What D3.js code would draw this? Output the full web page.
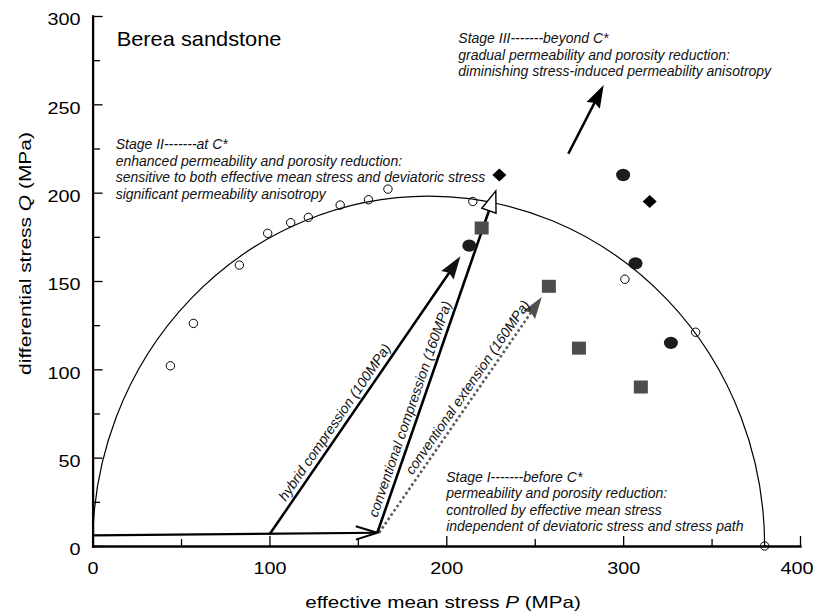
<!DOCTYPE html>
<html>
<head>
<meta charset="utf-8">
<script src="https://cdn.jsdelivr.net/npm/d3@7"></script>
<style>
  body { margin: 0; background: #fff; }
  svg { display: block; font-family: "Liberation Sans", Arial, sans-serif; }
</style>
</head>
<body>
<svg id="chart" width="815" height="614"></svg>
<script>
// ---- data -------------------------------------------------------------
// axis ticks
const xTickValues = [0, 50, 100, 150, 200, 250, 300, 350, 400];
const xTickLabels = [0, 100, 200, 300, 400];
const yTickValues = [0, 25, 50, 75, 100, 125, 150, 175, 200, 225, 250, 275, 300];
const yTickLabels = [0, 50, 100, 150, 200, 250, 300];

// C* envelope (elliptical cap): centre on the P axis, half-width, height
const capCenter = 190;
const capHalfWidth = 190;
const capHeight = 198;

// open circles: onset of shear-enhanced compaction (C*)
const openP = [44, 57, 83, 99, 112, 122, 140, 156, 167, 215, 301, 341, 380];
const openQ = [102, 126, 159, 177, 183, 186, 193, 196, 202, 195, 151, 121, 0];

// filled circles, diamonds and squares
const dotP = [213, 300, 307, 327];
const dotQ = [170, 210, 160, 115];
const diamondP = [230, 315];
const diamondQ = [210, 195];
const squareP = [220, 258, 275, 310];
const squareQ = [180, 147, 112, 90];

// stress paths [P, Q] start -> end
const loadingPath = [[0, 6], [161, 7.5]];
const hybridPath = [[100, 6.5], [208, 164]];
const compressionPath = [[161, 7.5], [228, 201]];
const extensionPath = [[162, 7.5], [254, 141]];
const stage3Path = [[269, 222], [289, 261]];

// annotation text
const stage2Text = [
  "Stage II-------at C*",
  "enhanced permeability and porosity reduction:",
  "sensitive to both effective mean stress and deviatoric stress",
  "significant permeability anisotropy"
];
const stage3Text = [
  "Stage III-------beyond C*",
  "gradual permeability and porosity reduction:",
  "diminishing stress-induced permeability anisotropy"
];
const stage1Text = [
  "Stage I-------before C*",
  "permeability and porosity reduction:",
  "controlled by effective mean stress",
  "independent of deviatoric stress and stress path"
];

// ---- chart ------------------------------------------------------------
const svg = d3.select("#chart");
const FONT = "'Liberation Sans', Arial, sans-serif";

const x = d3.scaleLinear().domain([0, 400]).range([92.6, 800]);
const y = d3.scaleLinear().domain([0, 300]).range([546, 16]);

const tickFont = 16.5;
const tickStretch = 1.2;

// x axis: ticks point inward (up), long at 100s, short at 50s
const xAxis = d3.axisBottom(x)
  .tickValues(xTickValues)
  .tickFormat(d => xTickLabels.includes(d) ? d : "")
  .tickSizeInner(-10)
  .tickSizeOuter(0)
  .tickPadding(15.8);
const gx = svg.append("g").attr("transform", `translate(0,${y(0)})`).call(xAxis);
gx.selectAll(".tick line")
  .attr("y2", d => d % 100 === 0 ? -10 : -7)
  .attr("stroke", "#000").attr("stroke-width", 1.3);
gx.selectAll(".tick text")
  .attr("font-family", FONT).attr("font-size", tickFont).attr("fill", "#000")
  .attr("x", d => d === 400 ? -3.5 / tickStretch : 0)
  .attr("transform", `scale(${tickStretch},1)`);

// y axis: ticks point inward (right), long at 50s, short at 25s
const yPad = 12;
const yAxis = d3.axisLeft(y)
  .tickValues(yTickValues)
  .tickFormat(d => yTickLabels.includes(d) ? d : "")
  .tickSizeInner(-10)
  .tickSizeOuter(0)
  .tickPadding(yPad);
const gy = svg.append("g").attr("transform", `translate(${x(0)},0)`).call(yAxis);
gy.selectAll(".tick line")
  .attr("x2", d => d % 50 === 0 ? 10 : 7.5)
  .attr("stroke", "#000").attr("stroke-width", 1.3);
gy.selectAll(".tick text")
  .attr("font-family", FONT).attr("font-size", tickFont).attr("fill", "#000")
  .attr("x", -yPad / tickStretch)
  .attr("dy", "0.54em")
  .attr("transform", `scale(${tickStretch},1)`);

[gx, gy].forEach(g => g.select(".domain")
  .attr("stroke", "#000").attr("stroke-width", 2.3).attr("stroke-linecap", "square"));

// axis titles
const xTitle = svg.append("g")
  .attr("transform", `translate(443,608) scale(1.25,1)`)
  .append("text").attr("text-anchor", "middle")
  .attr("font-family", FONT).attr("font-size", 16.5).attr("fill", "#000");
xTitle.append("tspan").text("effective mean stress ");
xTitle.append("tspan").attr("font-style", "italic").text("P");
xTitle.append("tspan").text(" (MPa)");

const yTitle = svg.append("g")
  .attr("transform", `translate(31,253.5) rotate(-90) scale(1.27,1)`)
  .append("text").attr("text-anchor", "middle")
  .attr("font-family", FONT).attr("font-size", 16.5).attr("fill", "#000");
yTitle.append("tspan").text("differential stress ");
yTitle.append("tspan").attr("font-style", "italic").text("Q");
yTitle.append("tspan").text(" (MPa)");

// sample name
svg.append("g").attr("transform", "translate(116.7,46) scale(1.09,1)")
  .append("text")
  .attr("font-family", FONT).attr("font-size", 20).attr("fill", "#000")
  .text("Berea sandstone");

// C* envelope
const rx = x(capCenter + capHalfWidth) - x(capCenter);
const ry = y(0) - y(capHeight);
svg.append("path")
  .attr("d", `M${x(capCenter - capHalfWidth)},${y(0)} A${rx},${ry} 0 0 1 ${x(capCenter + capHalfWidth)},${y(0)}`)
  .attr("fill", "none").attr("stroke", "#000").attr("stroke-width", 1.2);

// ---- arrows -----------------------------------------------------------
function px(p) { return [x(p[0]), y(p[1])]; }
function geom(path) {
  const [x1, y1] = px(path[0]), [x2, y2] = px(path[1]);
  const len = Math.hypot(x2 - x1, y2 - y1);
  const ux = (x2 - x1) / len, uy = (y2 - y1) / len;
  return { x1, y1, x2, y2, ux, uy, len, nx: uy, ny: -ux };
}
// arrow head polygon: tip, wing, notch, wing
function headPoints(g, L, W, notch) {
  const bx = g.x2 - g.ux * L, by = g.y2 - g.uy * L;
  return [
    [g.x2, g.y2],
    [bx + g.nx * W, by + g.ny * W],
    [g.x2 - g.ux * (L - notch), g.y2 - g.uy * (L - notch)],
    [bx - g.nx * W, by - g.ny * W]
  ];
}
function shaft(g, back, color, width, dash) {
  const l = svg.append("line")
    .attr("x1", g.x1).attr("y1", g.y1)
    .attr("x2", g.x2 - g.ux * back).attr("y2", g.y2 - g.uy * back)
    .attr("stroke", color).attr("stroke-width", width);
  if (dash) l.attr("stroke-dasharray", dash);
  return l;
}

// hydrostatic loading with open chevron head
const gl = geom(loadingPath);
shaft(gl, 0, "#000", 2.2);
svg.append("polyline")
  .attr("points", [
    [gl.x2 - gl.ux * 21.5 + gl.nx * 6.7, gl.y2 - gl.uy * 21.5 + gl.ny * 6.7],
    [gl.x2, gl.y2],
    [gl.x2 - gl.ux * 21.5 - gl.nx * 6.7, gl.y2 - gl.uy * 21.5 - gl.ny * 6.7]
  ].map(p => p.join(",")).join(" "))
  .attr("fill", "none").attr("stroke", "#000").attr("stroke-width", 2);

// conventional extension (dotted, grey head)
const ge = geom(extensionPath);
shaft(ge, 16, "#5a5a5a", 2.6, "2.6,2.6");
svg.append("polygon").attr("points", headPoints(ge, 22, 7, 3).map(p => p.join(",")).join(" "))
  .attr("fill", "#4f4f4f");

// hybrid compression (black head)
const gh = geom(hybridPath);
shaft(gh, 16, "#000", 2.5);
svg.append("polygon").attr("points", headPoints(gh, 23, 7.5, 3).map(p => p.join(",")).join(" "))
  .attr("fill", "#111");

// conventional compression (open triangle head)
const gc = geom(compressionPath);
shaft(gc, 18, "#000", 2.6);
svg.append("polygon").attr("points", headPoints(gc, 21, 7.5, 0).filter((d, i) => i !== 2).map(p => p.join(",")).join(" "))
  .attr("fill", "#fff").attr("stroke", "#000").attr("stroke-width", 1.4).attr("stroke-linejoin", "miter");

// stage III direction arrow
const g3 = geom(stage3Path);
shaft(g3, 16, "#000", 2.5);
svg.append("polygon").attr("points", headPoints(g3, 23, 7.5, 3).map(p => p.join(",")).join(" "))
  .attr("fill", "#000");

// ---- markers ----------------------------------------------------------
svg.append("g").selectAll("rect").data(squareP).join("rect")
  .attr("x", (d, i) => x(d) - 7).attr("y", (d, i) => y(squareQ[i]) - 6.5)
  .attr("width", 14).attr("height", 13)
  .attr("fill", "#4d4d4d");

svg.append("g").selectAll("ellipse").data(dotP).join("ellipse")
  .attr("cx", d => x(d)).attr("cy", (d, i) => y(dotQ[i]))
  .attr("rx", 7).attr("ry", 6.2)
  .attr("fill", "#1c1c1c");

svg.append("g").selectAll("path").data(diamondP).join("path")
  .attr("transform", (d, i) => `translate(${x(d)},${y(diamondQ[i])})`)
  .attr("d", "M0,-6.5L7,0L0,6.5L-7,0Z")
  .attr("fill", "#000");

svg.append("g").selectAll("circle").data(openP).join("circle")
  .attr("cx", d => x(d)).attr("cy", (d, i) => y(openQ[i]))
  .attr("r", 4.2)
  .attr("fill", "none").attr("stroke", "#000").attr("stroke-width", 1);

// ---- path labels ------------------------------------------------------
function pathLabel(g, text, along, offset) {
  const ang = Math.atan2(g.uy, g.ux) * 180 / Math.PI;
  const tx = g.x1 + g.ux * along + g.nx * offset;
  const ty = g.y1 + g.uy * along + g.ny * offset;
  svg.append("text")
    .attr("transform", `translate(${tx},${ty}) rotate(${ang})`)
    .attr("font-family", FONT).attr("font-size", 14).attr("font-style", "italic")
    .attr("fill", "#111")
    .text(text);
}
pathLabel(gh, "hybrid compression (100MPa)", 36, 5);
pathLabel(gc, "conventional compression (160MPa)", 14, 5);
pathLabel(ge, "conventional extension (160MPa)", 66, 5);

// ---- stage annotations ------------------------------------------------
function block(lines, x0, y0, dy) {
  const t = svg.append("text")
    .attr("font-family", FONT).attr("font-size", 14).attr("font-style", "italic")
    .attr("fill", "#111");
  lines.forEach((s, i) => t.append("tspan").attr("x", x0).attr("y", y0 + i * dy).text(s));
}
block(stage2Text, 115.7, 149.3, 16.4);
block(stage3Text, 458.3, 43, 16.6);
block(stage1Text, 446.2, 481.7, 16.5);
</script>
</body>
</html>
